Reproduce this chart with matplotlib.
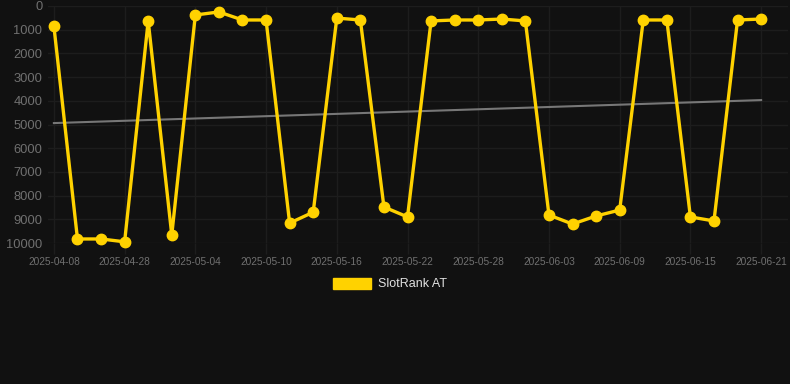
import matplotlib
matplotlib.use("Agg")
import matplotlib.pyplot as plt
from matplotlib.patches import Patch

# dates of the samples (category axis, every 3rd one labelled)
dates = ["2025-04-08", "2025-04-24", "2025-04-26", "2025-04-28", "2025-04-30",
         "2025-05-02", "2025-05-04", "2025-05-06", "2025-05-08", "2025-05-10",
         "2025-05-12", "2025-05-14", "2025-05-16", "2025-05-18", "2025-05-20",
         "2025-05-22", "2025-05-24", "2025-05-26", "2025-05-28", "2025-05-30",
         "2025-06-01", "2025-06-03", "2025-06-05", "2025-06-07", "2025-06-09",
         "2025-06-11", "2025-06-13", "2025-06-15", "2025-06-17", "2025-06-19",
         "2025-06-21"]
rank = [850, 9830, 9830, 9950, 630, 9660, 380, 250, 590, 590,
        9160, 8700, 510, 590, 8480, 8900, 630, 590, 590, 550,
        630, 8820, 9200, 8860, 8610, 590, 590, 8900, 9070, 590,
        550]
trend = [4940, 3970]  # start / end of the gray trend line
yticks = list(range(0, 10001, 1000))

bg = "#111111"
gold = "#FFD200"
grid = "#1d1d1d"

plt.rcParams['font.family'] = ['Liberation Sans', 'DejaVu Sans']

fig = plt.figure(figsize=[7.9, 3.84], dpi=100, facecolor=bg)
ax = fig.add_axes([48 / 790, 1 - 243 / 384, 740 / 790, 237 / 384], facecolor=bg)

x = list(range(len(rank)))
ax.plot([x[0], x[-1]], trend, color="#777777", lw=1.5, zorder=2)
ax.plot(x, rank, color=gold, lw=2.4, marker="o", ms=7.5,
        solid_joinstyle="miter", clip_on=False, zorder=3)

ax.set_ylim(10000, 0)
ax.set_xlim(-0.25, 31.14)
ax.set_yticks(yticks)
ax.set_yticklabels([str(v) for v in yticks])
ax.set_xticks(x[::3])
ax.set_xticklabels(dates[::3])

ax.grid(True, color=grid, lw=1)
ax.set_axisbelow(True)
for s in ax.spines.values():
    s.set_visible(False)
ax.tick_params(axis="y", length=0, pad=4, labelsize=9.3, labelcolor="#707070")
ax.tick_params(axis="x", length=8, width=1, color=grid, pad=2,
               labelsize=7.3, labelcolor="#707070")

handle = Patch(facecolor=gold, edgecolor=gold)
fig.legend([handle], ["SlotRank AT"], loc="center", bbox_to_anchor=(390 / 790, 1 - 284 / 384),
           frameon=False, handlelength=3.0, handleheight=1.0, handletextpad=0.55,
           fontsize=9, labelcolor="#e0e0e0")

fig.savefig("out.png", dpi=100, facecolor=bg)
